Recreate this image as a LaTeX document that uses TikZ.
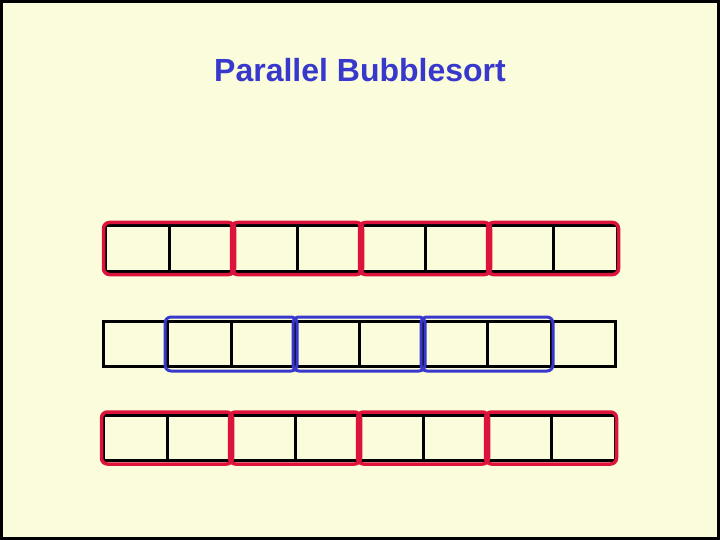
\documentclass[tikz,border=0pt]{standalone}
\usepackage{fontspec}
\setmainfont{Liberation Sans}
\usepackage{xcolor}
\usepackage{tikz}
\usetikzlibrary{positioning,fit}

\definecolor{paper}{HTML}{FAFCDC}
\definecolor{pairred}{HTML}{DC143C}
\definecolor{pairblue}{HTML}{3838CC}

\begin{document}
\begin{tikzpicture}[
  x=1pt, y=-1pt,
  cell/.style={rectangle, draw=black, line width=3pt, minimum width=64pt,
               minimum height=45pt, inner sep=0pt},
  redpair/.style={rectangle, draw=pairred, line width=3.5pt, rounded corners=6pt,
                  inner xsep=0pt, inner ysep=2pt},
  bluepair/.style={rectangle, draw=pairblue, line width=3pt, rounded corners=6pt,
                   inner xsep=0.5pt, inner ysep=3pt},
  heading/.style={font=\bfseries\fontsize{32}{38}\selectfont, text=pairblue}
]

% Frame
\useasboundingbox (0,0) rectangle (720,540);
\draw[fill=paper, line width=3pt] (1.5,1.5) rectangle (718.5,538.5);

% Title
\node[heading] (title) at (360,70) {Parallel Bubblesort};

% Row 1: odd phase
\foreach \i in {1,...,8}
  \node[cell] (a\i) at ({105+64*(\i-0.5)},248.5) {};

% Row 2: even phase
\foreach \i in {1,...,8}
  \node[cell] (b\i) at ({103+64*(\i-0.5)},344) {};

% Row 3: odd phase
\foreach \i in {1,...,8}
  \node[cell] (c\i) at ({103+64*(\i-0.5)},438) {};

% Compared pairs
\node[redpair, fit=(a1)(a2)] (pa1) {};
\node[redpair, fit=(a3)(a4)] (pa2) {};
\node[redpair, fit=(a5)(a6)] (pa3) {};
\node[redpair, fit=(a7)(a8)] (pa4) {};

\node[bluepair, fit=(b2)(b3)] (pb1) {};
\node[bluepair, fit=(b4)(b5)] (pb2) {};
\node[bluepair, fit=(b6)(b7)] (pb3) {};

\node[redpair, fit=(c1)(c2)] (pc1) {};
\node[redpair, fit=(c3)(c4)] (pc2) {};
\node[redpair, fit=(c5)(c6)] (pc3) {};
\node[redpair, fit=(c7)(c8)] (pc4) {};

\end{tikzpicture}
\end{document}
